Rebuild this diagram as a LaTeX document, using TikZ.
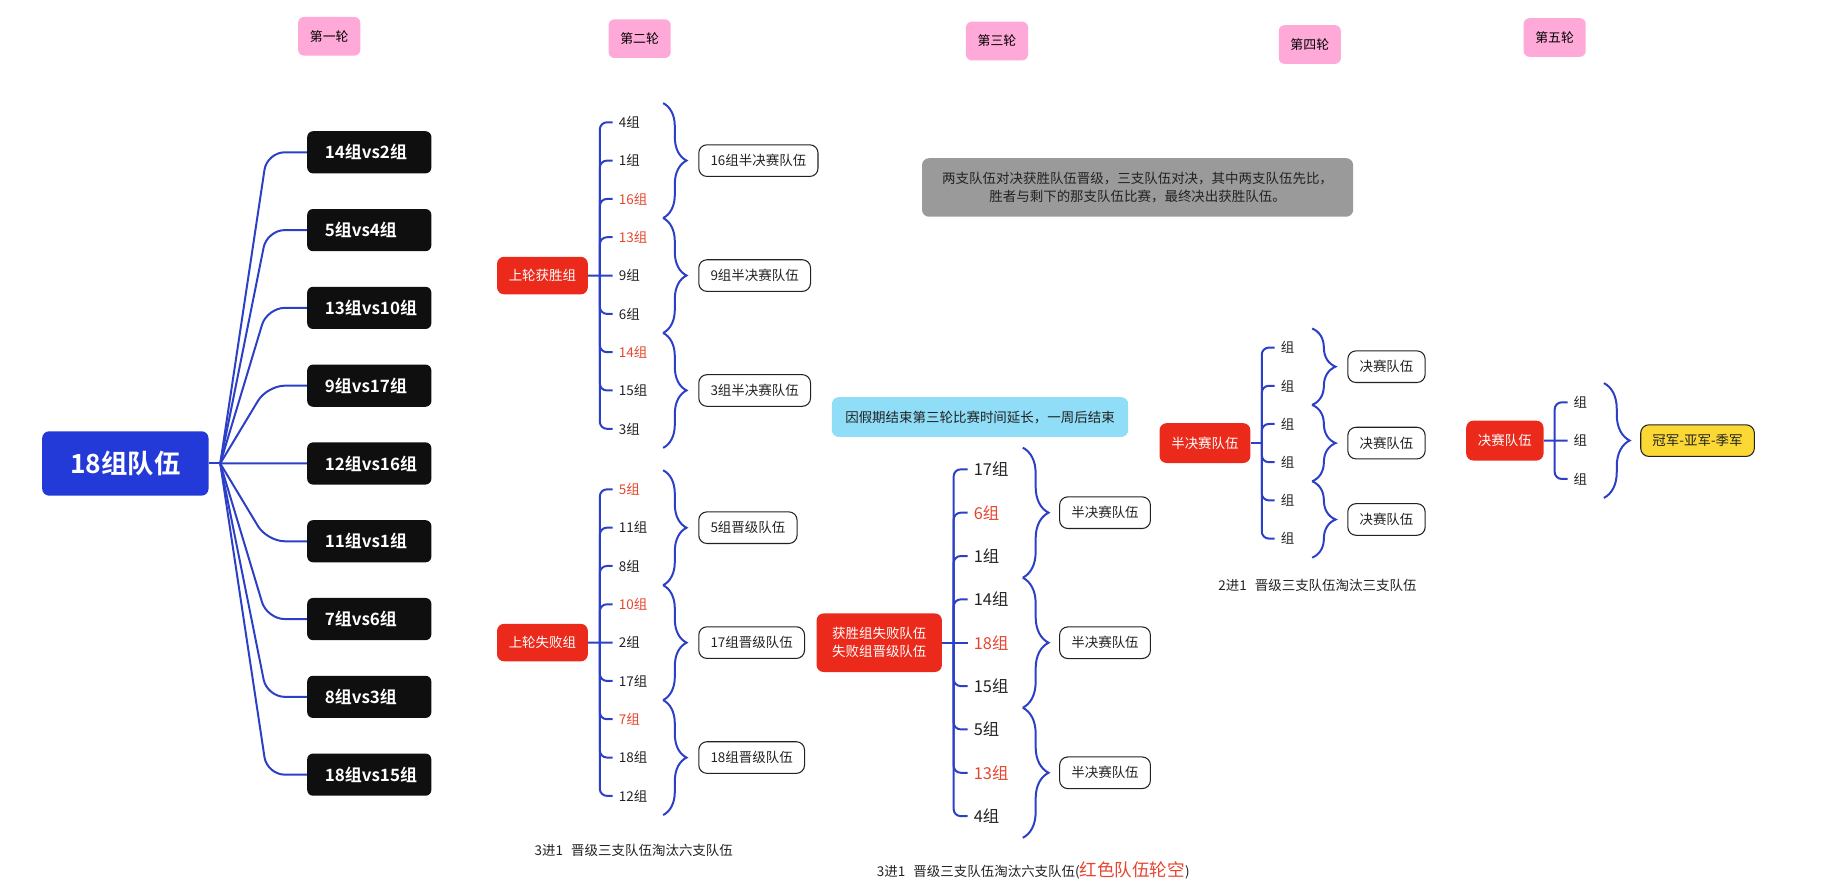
\documentclass[tikz,border=0pt]{standalone}
\usepackage{fontspec}
\setmainfont{Noto Sans CJK SC}[BoldFont={Noto Sans CJK SC Bold}]
\usetikzlibrary{positioning, decorations.pathreplacing}
\definecolor{linkblue}{HTML}{2B40C6}
\definecolor{rootblue}{HTML}{233AD8}
\definecolor{boxred}{HTML}{EB2A1B}
\definecolor{hot}{HTML}{E5452F}
\definecolor{pinkbg}{HTML}{FFA9D9}
\definecolor{skyblue}{HTML}{8FDDF7}
\definecolor{notegray}{HTML}{9A9A9A}
\definecolor{gold}{HTML}{FCD835}
\definecolor{ink}{HTML}{222222}
\newcommand{\sz}[1]{\fontsize{#1}{#1}\selectfont}

\begin{document}
\begin{tikzpicture}[x=1pt, y=-1pt,
 round node/.style={fill=pinkbg, rounded corners=5pt, minimum width=53pt, minimum height=33pt, inner sep=0pt, font=\sz{11}},
 root node/.style={fill=rootblue, rounded corners=6pt, minimum width=142pt, minimum height=55pt, text=white, font=\sz{22.5}\bfseries},
 match node/.style={fill=black!94, rounded corners=5pt, anchor=west, text width=76pt, inner xsep=15pt, minimum height=36pt, align=left, text=white, font=\sz{14.5}\bfseries},
 group node/.style={fill=boxred, rounded corners=6pt, minimum height=32pt, inner xsep=10pt, text=white, font=\sz{11.5}},
 item node/.style={anchor=west, inner xsep=5pt, inner ysep=1pt, text=ink, font=\sz{11.5}},
 result node/.style={draw=ink, line width=0.9pt, rounded corners=7pt, anchor=west, minimum height=27pt, inner xsep=10pt, text=ink, font=\sz{11.5}},
 note node/.style={rounded corners=6pt, text=ink, font=\sz{11.5}},
 link/.style={draw=linkblue, line width=1.7pt},
 curly/.style={draw=linkblue, line width=1.7pt, decorate, decoration={brace, amplitude=#1, aspect=0.5}},
 curly/.default=20pt]

 \useasboundingbox (0,0) rectangle (1568,758);

 % rounds
 \node[round node] (r1) at (281,31) {第一轮};
 \node[round node] (r2) at (546,33) {第二轮};
 \node[round node] (r3) at (851,35) {第三轮};
 \node[round node] (r4) at (1118,38) {第四轮};
 \node[round node] (r5) at (1327,32) {第五轮};

 % round one
 \node[root node] (root) at (107,395.6) {18组队伍};
 \coordinate (fan) at (188,395.6);
 \draw[link] (root.east) -- (fan);
 \foreach \i/\t in {1/14组vs2组, 2/5组vs4组, 3/13组vs10组, 4/9组vs17组, 5/12组vs16组,
   6/11组vs1组, 7/7组vs6组, 8/8组vs3组, 9/18组vs15组} {
  \node[match node] (m\i) at (262,{130+66.4*(\i-1)}) {\t};
  \draw[link, rounded corners=15pt] (fan) -- (228,{130+66.4*(\i-1)}) -- (m\i.west);
 }

 % round two, winners
 \node[group node] (win) at (463,235.2) {上轮获胜组};
 \coordinate (wsp) at (512,235.2);
 \foreach \i/\t/\c in {1/4组/ink, 2/1组/ink, 3/16组/hot, 4/13组/hot, 5/9组/ink,
   6/6组/ink, 7/14组/hot, 8/15组/ink, 9/3组/ink}
  \node[item node, text=\c] (w\i) at (523,{104.4+32.7*(\i-1)}) {\t};
 \draw[link] (win.east) -- (w5.west);
 \foreach \i in {1,2,3,4,6,7,8,9}
  \draw[link, rounded corners=6pt] (wsp) |- (w\i.west);
 \foreach \k/\t in {0/16组半决赛队伍, 1/9组半决赛队伍, 2/3组半决赛队伍} {
  \draw[curly] (566,{88+98.1*\k}) -- (566,{186.1+98.1*\k});
  \node[result node] (wr\k) at (596,{137.1+98.1*\k}) {\t};
 }

 % round two, losers
 \node[group node] (lose) at (463,548.5) {上轮失败组};
 \coordinate (lsp) at (512,548.5);
 \foreach \i/\t/\c in {1/5组/hot, 2/11组/ink, 3/8组/ink, 4/10组/hot, 5/2组/ink,
   6/17组/ink, 7/7组/hot, 8/18组/ink, 9/12组/ink}
  \node[item node, text=\c] (l\i) at (523,{417.7+32.7*(\i-1)}) {\t};
 \draw[link] (lose.east) -- (l5.west);
 \foreach \i in {1,2,3,4,6,7,8,9}
  \draw[link, rounded corners=6pt] (lsp) |- (l\i.west);
 \foreach \k/\t in {0/5组晋级队伍, 1/17组晋级队伍, 2/18组晋级队伍} {
  \draw[curly] (566,{401.4+98.1*\k}) -- (566,{499.5+98.1*\k});
  \node[result node] (lr\k) at (596,{450.4+98.1*\k}) {\t};
 }
 \node[text=ink, font=\sz{11.5}] (cap2) at (541,726) {3进1\hspace{0.6em}晋级三支队伍淘汰六支队伍};

 % round three
 \node[note node, fill=notegray, align=center, font=\fontsize{11.5}{16}\selectfont,
   minimum width=368pt, minimum height=50pt] (rule) at (971,160)
   {两支队伍对决获胜队伍晋级，三支队伍对决，其中两支队伍先比，\\胜者与剩下的那支队伍比赛，最终决出获胜队伍。};
 \node[note node, fill=skyblue, minimum width=253pt, minimum height=34pt] (delay) at (836.5,356)
   {因假期结束第三轮比赛时间延长，一周后结束};
 \node[group node, align=center, font=\fontsize{11.5}{15.6}\selectfont, minimum width=107pt,
   minimum height=50pt] (mix) at (750.5,548.6) {获胜组失败队伍\\失败组晋级队伍};
 \coordinate (msp) at (814,548.6);
 \foreach \i/\t/\c in {1/17组/ink, 2/6组/hot, 3/1组/ink, 4/14组/ink, 5/18组/hot,
   6/15组/ink, 7/5组/ink, 8/13组/hot, 9/4组/ink}
  \node[item node, text=\c, font=\sz{14}] (t\i) at (826,{400.6+37*(\i-1)}) {\t};
 \draw[link] (mix.east) -- (t5.west);
 \foreach \i in {1,2,3,4,6,7,8,9}
  \draw[link, rounded corners=6pt] (msp) |- (t\i.west);
 \foreach \k in {0,1,2} {
  \draw[curly=22pt] (873,{382.1+111*\k}) -- (873,{493.1+111*\k});
  \node[result node] (tr\k) at (904,{437.6+111*\k}) {半决赛队伍};
 }
 \node[text=ink, font=\sz{11.5}] (cap3) at (882,743)
   {3进1\hspace{0.6em}晋级三支队伍淘汰六支队伍(\textcolor{hot}{\sz{15}红色队伍轮空})};

 % round four
 \node[group node, minimum height=34pt] (semi) at (1028.5,378.2) {半决赛队伍};
 \coordinate (ssp) at (1077,378.2);
 \draw[link] (semi.east) -- (ssp);
 \foreach \i in {1,...,6} {
  \node[item node] (s\i) at (1088,{296.7+32.6*(\i-1)}) {组};
  \draw[link, rounded corners=6pt] (ssp) |- (s\i.west);
 }
 \foreach \k in {0,1,2} {
  \draw[curly] (1120,{280.4+65.2*\k}) -- (1120,{345.6+65.2*\k});
  \node[result node] (sr\k) at (1150,{313+65.2*\k}) {决赛队伍};
 }
 \node[text=ink, font=\sz{11.5}] (cap4) at (1124.5,500) {2进1\hspace{0.6em}晋级三支队伍淘汰三支队伍};

 % round five
 \node[group node, minimum height=34pt] (final) at (1284.5,376.1) {决赛队伍};
 \coordinate (fsp) at (1327,376.1);
 \foreach \i in {1,2,3}
  \node[item node] (f\i) at (1338,{343.4+32.7*(\i-1)}) {组};
 \draw[link] (final.east) -- (f2.west);
 \foreach \i in {1,3}
  \draw[link, rounded corners=6pt] (fsp) |- (f\i.west);
 \draw[curly=22pt] (1369,327) -- (1369,425);
 \node[result node, fill=gold] (champ) at (1400,376.1) {冠军-亚军-季军};
\end{tikzpicture}
\end{document}
